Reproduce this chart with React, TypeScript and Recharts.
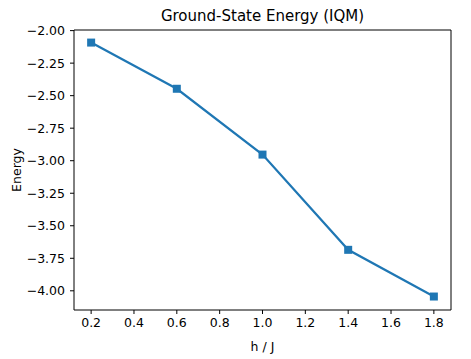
import { Line, LineChart, ReferenceLine, XAxis, YAxis } from "recharts";

const fields = [0.2, 0.6, 1.0, 1.4, 1.8];
const energies = [-2.092, -2.447, -2.953, -3.685, -4.044];
const xTicks = [0.2, 0.4, 0.6, 0.8, 1.0, 1.2, 1.4, 1.6, 1.8];
const yTicks = [-2.0, -2.25, -2.5, -2.75, -3.0, -3.25, -3.5, -3.75, -4.0];

const data = fields.map((h, i) => ({ h, energy: energies[i] }));

const font = "'DejaVu Sans', sans-serif";
const blue = "#1f77b4";
const xDomain = [0.12, 1.88];
const yDomain = [-4.1475, -1.9953];

const SquareDot = (props: any) => {
  const { cx, cy } = props;
  if (cx == null || cy == null) return null;
  return <rect x={cx - 4} y={cy - 4} width={8} height={8} fill={blue} />;
};

const fmtY = (v: number) => {
  const s = Math.abs(v).toFixed(2);
  return v < 0 ? `\u2212${s}` : s;
};

export default function App() {
  return (
    <div style={{ position: "absolute", left: 0, top: 0, width: 471, height: 359, background: "#fff" }}>
      <div
        style={{
          position: "absolute",
          left: 74,
          width: 377,
          top: 7,
          textAlign: "center",
          fontFamily: font,
          fontSize: 15,
          color: "#000",
          lineHeight: "18px",
        }}
      >
        Ground-State Energy (IQM)
      </div>
      <LineChart
        width={471}
        height={359}
        data={data}
        margin={{ top: 30, right: 20, bottom: 0, left: 0 }}
      >
        <XAxis
          dataKey="h"
          type="number"
          domain={xDomain}
          ticks={xTicks}
          allowDataOverflow
          tickFormatter={(v: number) => v.toFixed(1)}
          height={49}
          stroke="#000"
          tickSize={4}
          tickMargin={4}
          tick={{ fill: "#000", fontSize: 12.5, fontFamily: font }}
          label={{ value: "h / J", position: "insideBottom", offset: 8, fill: "#000", fontSize: 12.5, fontFamily: font }}
        />
        <YAxis
          type="number"
          domain={yDomain}
          ticks={yTicks}
          allowDataOverflow
          tickFormatter={fmtY}
          width={74}
          stroke="#000"
          tickSize={4}
          tickMargin={5}
          tick={{ fill: "#000", fontSize: 12.5, fontFamily: font }}
          label={{ value: "Energy", angle: -90, position: "insideLeft", offset: 17, fill: "#000", fontSize: 12.5, fontFamily: font, style: { textAnchor: "middle" } }}
        />
        <ReferenceLine y={yDomain[1]} stroke="#000" strokeWidth={1} />
        <ReferenceLine x={xDomain[1]} stroke="#000" strokeWidth={1} />
        <Line
          dataKey="energy"
          stroke={blue}
          strokeWidth={2.2}
          dot={<SquareDot />}
          activeDot={false}
          isAnimationActive={false}
        />
      </LineChart>
    </div>
  );
}
